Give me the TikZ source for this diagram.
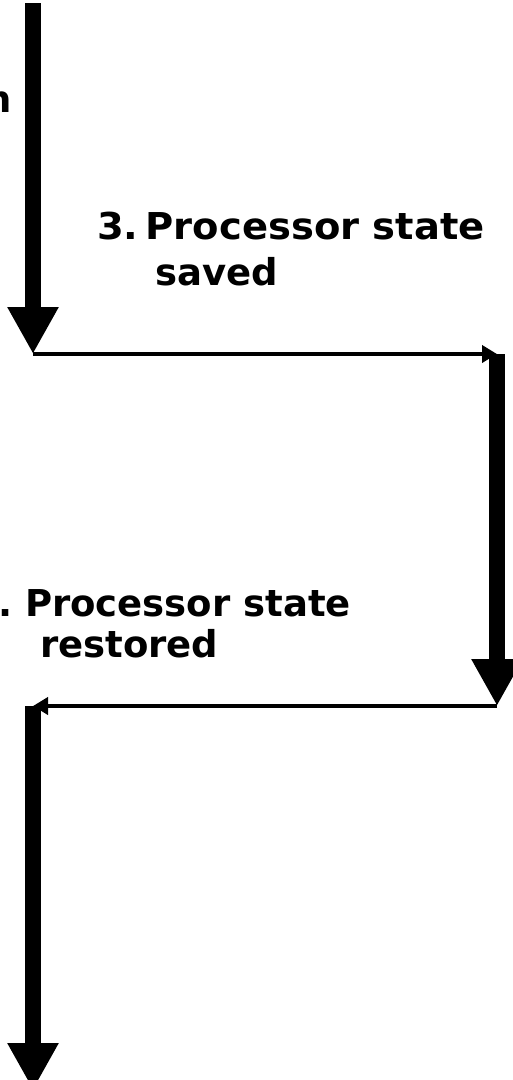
\documentclass[tikz,border=0pt]{standalone}
\usepackage{fontspec}
\setmainfont{DejaVu Sans}
\usetikzlibrary{arrows.meta, positioning}
\tikzset{
    bigarrow/.style={-{Triangle[width=48pt,length=47pt]}, line width=16pt},
    flowline/.style={-{Triangle[width=17pt,length=15pt]}, line width=4.5pt},
    steplabel/.style={anchor=base west, inner sep=0pt, font=\fontsize{37}{44}\selectfont\bfseries\frenchspacing}
}
\begin{document}
\begin{tikzpicture}[x=1pt, y=-1pt]
    \useasboundingbox (0,0) rectangle (513,1080);
    \clip (0,0) rectangle (513,1080);
    % Corner points of the flow
    \coordinate (start) at (33,3);
    \coordinate (saveturn) at (33,354);
    \coordinate (handler) at (497,354);
    \coordinate (restoreturn) at (497,706);
    \coordinate (resume) at (33,706);
    \coordinate (finish) at (33,1090);
    % Labels
    \node[steplabel] (cutoff) at (-15,112) {n};
    \node[steplabel, xscale=1.04, transform shape] (savedA) at (97,239) {3.\kern-6pt\ Processor state};
    \node[steplabel] (savedB) at (155,285) {saved};
    \node[steplabel] (restoredA) at (-2,616) {. Processor state};
    \node[steplabel] (restoredB) at (40,657) {restored};
    % Down arrows
    \draw[bigarrow] (start) -- (saveturn);
    \draw[bigarrow] (handler) -- (restoreturn);
    \draw[bigarrow] (resume) -- (finish);
    % Sideways arrows
    \draw[flowline] (saveturn) -- (handler);
    \draw[flowline] (restoreturn) -- (resume);
\end{tikzpicture}
\end{document}
